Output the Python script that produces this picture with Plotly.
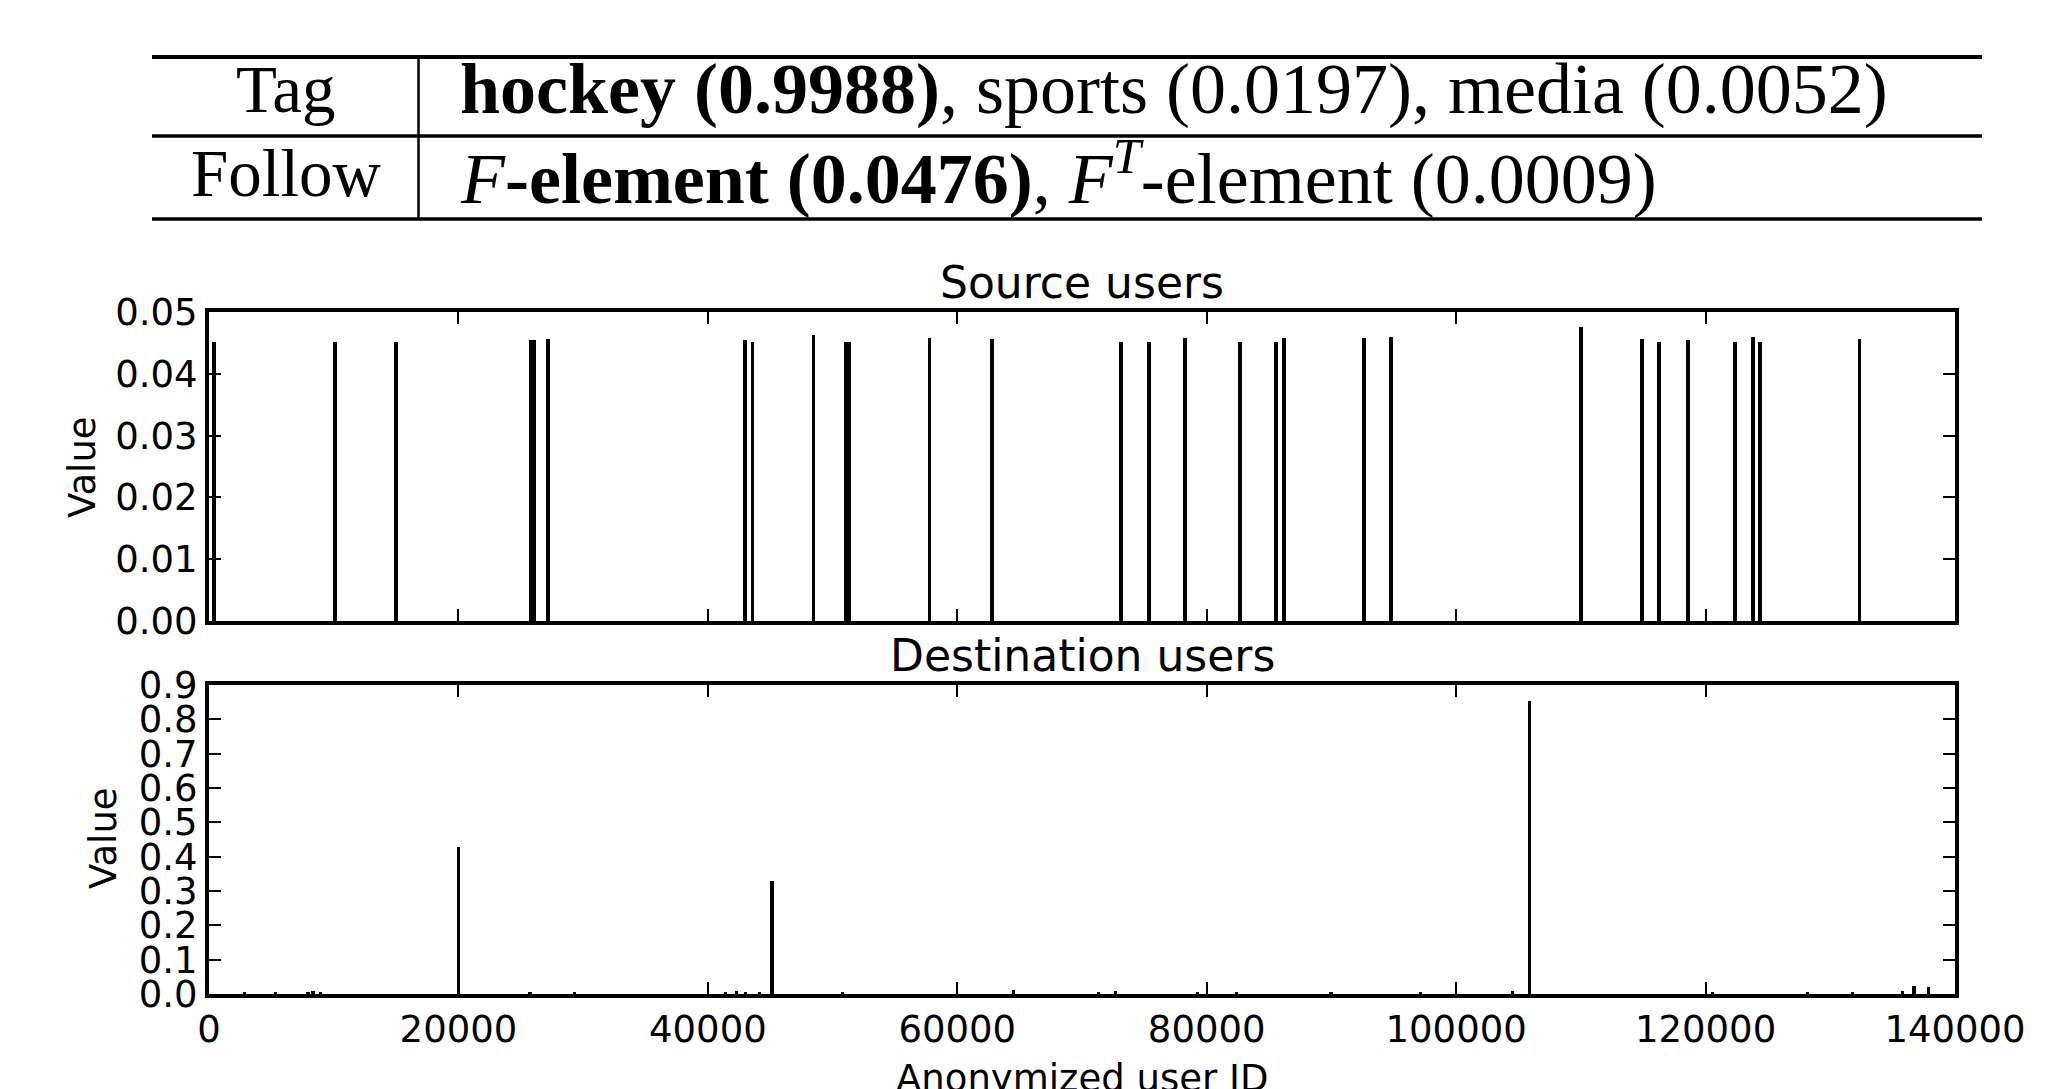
import plotly.graph_objects as go

# ---------------- data ----------------
src_ids = [400, 10120, 15010, 25820, 26090, 27200, 42990, 43580, 48470, 51040, 51300,
           57770, 62790, 73160, 75370, 78240, 82700, 85560, 86170, 92580, 94780,
           110030, 114870, 116260, 118620, 122330, 123820, 124330, 132340]
src_vals = [0.0452, 0.0452, 0.0452, 0.0454, 0.0454, 0.0456, 0.0454, 0.0452, 0.0463, 0.0452, 0.0452,
            0.0458, 0.0456, 0.0452, 0.0452, 0.0458, 0.0452, 0.0452, 0.0458, 0.0458, 0.0459,
            0.0475, 0.0456, 0.0452, 0.0454, 0.0452, 0.0459, 0.0452, 0.0456]

dst_ids = [2870, 5350, 7930, 8340, 8940, 20000, 25740, 29280, 41390, 42300, 43000, 44140,
           45150, 50820, 64530, 71300, 72660, 79260, 82360, 89960, 97150, 104510, 105870,
           120530, 128180, 131810, 135770, 136720, 137860]
dst_vals = [0.007, 0.007, 0.007, 0.008, 0.007, 0.427, 0.007, 0.007, 0.007, 0.008, 0.007, 0.007,
            0.328, 0.007, 0.012, 0.007, 0.008, 0.007, 0.007, 0.007, 0.007, 0.008, 0.854,
            0.007, 0.007, 0.007, 0.008, 0.023, 0.020]

x_ticks = [0, 20000, 40000, 60000, 80000, 100000, 120000, 140000]
src_yticks = [0.00, 0.01, 0.02, 0.03, 0.04, 0.05]
dst_yticks = [0.0, 0.1, 0.2, 0.3, 0.4, 0.5, 0.6, 0.7, 0.8, 0.9]

table_rows = ["Tag", "Follow"]
table_cells = [
    "<b>hockey (0.9988)</b>, sports (0.0197), media (0.0052)",
    "<i>F</i><b>-element (0.0476)</b>, <i>F</i><sup><i>T</i></sup>-element (0.0009)",
]

# ---------------- layout helpers ----------------
W, H = 2059, 1089
def px(x):
    return x / W
def py(y):
    return 1 - y / H

SANS = "DejaVu Sans"
SERIF = "Liberation Serif"
TICK_FS = 37

fig = go.Figure()
fig.add_trace(go.Bar(x=src_ids, y=src_vals, width=310, marker=dict(color="black", line=dict(width=0)),
                     xaxis="x", yaxis="y", showlegend=False))
fig.add_trace(go.Bar(x=dst_ids, y=dst_vals, width=260, marker=dict(color="black", line=dict(width=0)),
                     xaxis="x2", yaxis="y2", showlegend=False))

axis_common = dict(showline=True, linewidth=4, linecolor="black", mirror="ticks",
                   ticks="inside", ticklen=12, tickwidth=1.5, tickcolor="black",
                   showgrid=False, zeroline=False, automargin=False,
                   tickfont=dict(family=SANS, size=TICK_FS, color="black"))

x_dom = [px(209), px(1955)]
fig.update_layout(
    template="none",
    width=W, height=H, autosize=False,
    margin=dict(l=0, r=0, t=0, b=0, pad=0, autoexpand=False),
    paper_bgcolor="white", plot_bgcolor="white",
    bargap=0, showlegend=False,
    xaxis=dict(domain=x_dom, range=[0, 140000], tickvals=x_ticks, showticklabels=False,
               anchor="y", **axis_common),
    yaxis=dict(domain=[py(621), py(312)], range=[0, 0.05], tickvals=src_yticks,
               tickformat=".2f", anchor="x", **axis_common),
    xaxis2=dict(domain=x_dom, range=[0, 140000], tickvals=x_ticks, tickformat="d",
                anchor="y2", **axis_common),
    yaxis2=dict(domain=[py(994), py(685)], range=[0, 0.9], tickvals=dst_yticks,
                tickformat=".1f", anchor="x2", **axis_common),
)

ann = []
# subplot titles
ann.append(dict(text="Source users", x=(x_dom[0] + x_dom[1]) / 2, y=py(312), xref="paper", yref="paper",
                xanchor="center", yanchor="bottom", yshift=2, showarrow=False,
                font=dict(family=SANS, size=44, color="black")))
ann.append(dict(text="Destination users", x=(x_dom[0] + x_dom[1]) / 2, y=py(685), xref="paper", yref="paper",
                xanchor="center", yanchor="bottom", yshift=2, showarrow=False,
                font=dict(family=SANS, size=44, color="black")))
# y labels
ann.append(dict(text="Value", x=px(82), y=py(467), xref="paper", yref="paper", textangle=-90,
                xanchor="center", yanchor="middle", showarrow=False,
                font=dict(family=SANS, size=TICK_FS, color="black")))
ann.append(dict(text="Value", x=px(103), y=py(838), xref="paper", yref="paper", textangle=-90,
                xanchor="center", yanchor="middle", showarrow=False,
                font=dict(family=SANS, size=TICK_FS, color="black")))
# x label
ann.append(dict(text="Anonymized user ID", x=(x_dom[0] + x_dom[1]) / 2, y=py(1078), xref="paper", yref="paper",
                xanchor="center", yanchor="middle", showarrow=False,
                font=dict(family=SANS, size=TICK_FS, color="black")))

# table text
ROW_FS = 67
CELL_FS = 72
row_mid = [89, 173]
for i in range(2):
    ann.append(dict(text=table_rows[i], x=px(286), y=py(row_mid[i]), xref="paper", yref="paper",
                    xanchor="center", yanchor="middle", showarrow=False,
                    font=dict(family=SERIF, size=ROW_FS, color="black")))
    ann.append(dict(text=table_cells[i], x=px(458), y=py(row_mid[i]), xref="paper", yref="paper",
                    xanchor="left", yanchor="middle", showarrow=False,
                    font=dict(family=SERIF, size=CELL_FS, color="black")))
fig.update_layout(annotations=ann)

# table rules
shapes = []
tl, tr = px(152), px(1982)
for yy, lw in [(57, 4), (136, 3.3), (219, 3.5)]:
    shapes.append(dict(type="line", xref="paper", yref="paper", x0=tl, x1=tr, y0=py(yy), y1=py(yy),
                       line=dict(color="black", width=lw)))
shapes.append(dict(type="line", xref="paper", yref="paper", x0=px(418.5), x1=px(418.5), y0=py(57), y1=py(219),
                   line=dict(color="black", width=2.5)))
fig.update_layout(shapes=shapes)

fig.write_html("out.html", config={"displayModeBar": False},
               post_script="document.body.style.margin='0';document.body.style.overflow='hidden';")
